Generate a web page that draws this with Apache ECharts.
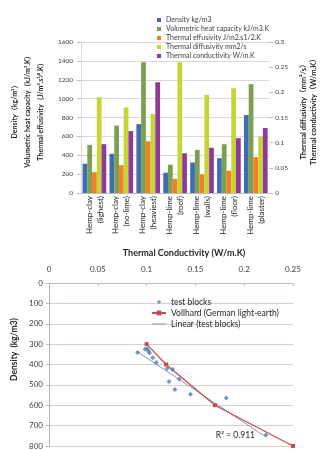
<!DOCTYPE html>
<html><head><meta charset="utf-8">
<script src="https://cdn.jsdelivr.net/npm/echarts@6/dist/echarts.min.js"></script>
<style>html,body{margin:0;padding:0;background:#fff}#c{width:327px;height:450px}</style>
</head><body><div id="c"></div>
<script>
// ---- data (top bar chart) ----
const categories = ['Hemp-clay\n(lighest)','Hemp-clay\n(no-lime)','Hemp-clay\n(heaviest)','Hemp-lime\n(roof)','Hemp-lime\n(walls)','Hemp-lime\n(floor)','Hemp-lime\n(plaster)'];
const density = [310, 415, 730, 215, 323, 369, 826];
const volumetricHeat = [510, 715, 1385, 300, 457, 517, 1153];
const effusivity = [220, 295, 548, 150, 197, 235, 380];
const diffusivity = [0.19, 0.17, 0.157, 0.26, 0.195, 0.208, 0.112];
const conductivity = [0.097, 0.123, 0.22, 0.079, 0.09, 0.109, 0.129];
const topNames = ['Density kg/m3','Volumetric heat capacity kJ/m3.K','Thermal effusivity J/m2.s1/2.K','Thermal diffusivity mm2/s','Thermal conductivity W/m.K'];
// ---- data (bottom scatter chart) ----
const testBlocks = [[0.0908,341],[0.0985,325],[0.1005,323],[0.102,334],[0.103,344],[0.1063,367],[0.110,390],[0.121,420],[0.1266,424],[0.123,483],[0.1333,471],[0.129,523],[0.145,546],[0.1816,564],[0.2223,746]];
const vollhard = [[0.1,300],[0.12,400],[0.17,600],[0.25,800]];
const linearTrend = [[0.0905,337],[0.222,755]];
const r2Text = 'R² = 0.911';

const font = 'Lato, "Liberation Sans", "Noto Sans CJK SC", sans-serif';
const chart = echarts.init(document.getElementById('c'));
const colors = ['#3f6db4', '#7ba04f', '#f07f25', '#c5d535', '#8e3a96'];
const topData = [density, volumetricHeat, effusivity, diffusivity, conductivity];

const series = topData.map((d, i) => ({
  type: 'bar', name: topNames[i], xAxisIndex: 0, yAxisIndex: i < 3 ? 0 : 1,
  data: d, itemStyle: { color: colors[i] }, barGap: '0%', barCategoryGap: '12%'
}));
series.push({
  type: 'scatter', name: 'test blocks', xAxisIndex: 1, yAxisIndex: 2,
  data: testBlocks, symbol: 'diamond', symbolSize: 5, itemStyle: { color: '#4a7ebb' }, z: 4
});
series.push({
  type: 'line', name: 'Linear (test blocks)', xAxisIndex: 1, yAxisIndex: 2,
  data: linearTrend, symbol: 'none', lineStyle: { color: '#8595bd', width: 1 }, itemStyle: { color: '#8595bd' },
  markPoint: {
    symbol: 'circle', symbolSize: 0,
    label: { show: true, formatter: r2Text, fontSize: 8.5, color: '#262626', fontFamily: font },
    data: [{ coord: [0.191, 746] }]
  }, z: 2
});
series.push({
  type: 'line', name: 'Vollhard (German light-earth)', xAxisIndex: 1, yAxisIndex: 2,
  data: vollhard, symbol: 'rect', symbolSize: 4, lineStyle: { color: '#c0504d', width: 1.3 }, itemStyle: { color: '#c0504d' }, z: 3
});

const plain = v => String(v);

const option = {
  animation: false,
  textStyle: { fontFamily: font },
  grid: [
    { left: 68, top: 42, width: 210, height: 151 },
    { left: 49, top: 283, width: 244, height: 165 }
  ],
  legend: [
    {
      orient: 'vertical', left: 152, top: 11, itemWidth: 4, itemHeight: 4, itemGap: 1, icon: 'rect',
      textStyle: { fontSize: 7, color: '#404040', lineHeight: 8, fontFamily: font },
      data: topNames
    },
    {
      orient: 'vertical', left: 146, top: 292, itemWidth: 14, itemHeight: 6, itemGap: 1,
      textStyle: { fontSize: 8.5, color: '#262626', lineHeight: 10, fontFamily: font },
      data: [
        { name: 'test blocks', icon: 'path://M0,0L14,6M7,1L9.2,3L7,5L4.8,3Z' },
        'Vollhard (German light-earth)',
        { name: 'Linear (test blocks)', icon: 'path://M0,0L14,0M0,6L14,6M0,2.5L14,2.5L14,3.5L0,3.5Z' }
      ]
    }
  ],
  xAxis: [
    {
      type: 'category', gridIndex: 0, data: categories,
      axisLine: { lineStyle: { color: '#bfbfbf' } },
      axisTick: { length: 46, lineStyle: { color: '#d9d9d9' } },
      axisLabel: { rotate: 90, interval: 0, fontSize: 8, lineHeight: 11, color: '#262626', margin: 3, fontFamily: font }
    },
    {
      type: 'value', gridIndex: 1, position: 'top', min: 0, max: 0.25, interval: 0.05,
      name: 'Thermal Conductivity (W/m.K)', nameLocation: 'middle', nameGap: 25,
      nameTextStyle: { fontWeight: 'bold', fontSize: 9, color: '#262626', padding: [0, 0, 0, 26], fontFamily: font },
      axisLine: { show: true, onZero: false, lineStyle: { color: '#bfbfbf' } },
      axisTick: { show: true, inside: true, length: 3, lineStyle: { color: '#bfbfbf' } },
      splitLine: { show: false },
      axisLabel: { fontSize: 8, color: '#404040', margin: 10, fontFamily: font, formatter: plain }
    }
  ],
  yAxis: [
    {
      type: 'value', gridIndex: 0, min: 0, max: 1600, interval: 200,
      name: 'Density（kg/m³）\nVolumetric heat capacity（kJ/m³.K）\nThermal effusivity（J/m².s¹⁄².K）',
      nameLocation: 'middle', nameRotate: 90, nameGap: 23,
      nameTextStyle: { fontWeight: 'bold', fontSize: 7, lineHeight: 13, color: '#262626', padding: [0, 0, 0, 15], fontFamily: font },
      axisLine: { show: true, lineStyle: { color: '#d9d9d9' } },
      axisTick: { show: true, length: 4, lineStyle: { color: '#bfbfbf' } },
      splitLine: { lineStyle: { color: '#d9d9d9' } },
      axisLabel: { fontSize: 6.5, color: '#404040', margin: 8, fontFamily: font, formatter: plain }
    },
    {
      type: 'value', gridIndex: 0, position: 'right', min: 0, max: 0.3, interval: 0.05,
      name: 'Thermal diffusivity（mm²/s）\nThermal conductivity（W/m.K）',
      nameLocation: 'middle', nameRotate: 90, nameGap: 27,
      nameTextStyle: { fontWeight: 'bold', fontSize: 7.5, lineHeight: 10, color: '#262626', padding: [0, 0, 0, 15], fontFamily: font },
      axisLine: { show: false },
      axisTick: { show: true, length: 4, lineStyle: { color: '#bfbfbf' } },
      splitLine: { show: false },
      axisLabel: { fontSize: 6.5, color: '#404040', margin: 6, fontFamily: font, formatter: plain }
    },
    {
      type: 'value', gridIndex: 1, inverse: true, min: 0, max: 800, interval: 100,
      name: 'Density  (kg/m3)', nameLocation: 'middle', nameGap: 29,
      nameTextStyle: { fontWeight: 'bold', fontSize: 8.5, color: '#262626', padding: [0, 0, 0, 30], fontFamily: font },
      axisLine: { show: true, lineStyle: { color: '#aab4c8' } },
      axisTick: { show: true, length: 3, lineStyle: { color: '#bfbfbf' } },
      splitLine: { lineStyle: { color: '#dccccc' } },
      axisLabel: { fontSize: 8, color: '#404040', margin: 6, fontFamily: font, formatter: plain }
    }
  ],
  series: series
};
chart.setOption(option);
</script>
</body></html>
